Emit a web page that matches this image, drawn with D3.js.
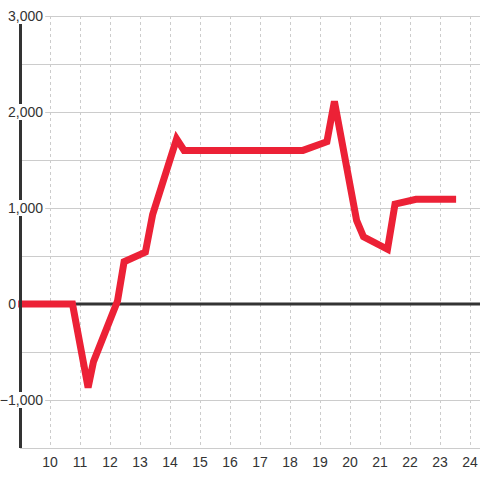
<!DOCTYPE html>
<html>
<head>
<meta charset="utf-8">
<script src="https://cdn.jsdelivr.net/npm/d3@7"></script>
<style>
  html, body { margin: 0; padding: 0; background: #fff; }
  #chart { width: 480px; height: 480px; }
  text { font-family: "Liberation Sans", Arial, sans-serif; font-size: 14px; fill: #333; }
</style>
</head>
<body>
<div id="chart"></div>
<script>
// data
const xValues = [9, 10.75, 11.27, 11.45, 12.25, 12.47, 13.18, 13.42, 14.22, 14.47, 18.43, 19.23, 19.48, 20.22, 20.45, 21.25, 21.5, 22.2, 23.42];
const yValues = [0, 0, -870, -600, 30, 440, 540, 930, 1720, 1600, 1600, 1690, 2110, 870, 700, 570, 1040, 1090, 1090];
const xTicks = [10, 11, 12, 13, 14, 15, 16, 17, 18, 19, 20, 21, 22, 23, 24];
const yGrid = [-1500, -1000, -500, 0, 500, 1000, 1500, 2000, 2500, 3000];
const yLabels = [-1000, 0, 1000, 2000, 3000];

const points = xValues.map((x, i) => ({ x: x, y: yValues[i] }));

const width = 480, height = 480;
const plotLeft = 20, plotTop = 16, plotBottom = 448;

const svg = d3.select('#chart').append('svg')
    .attr('width', width)
    .attr('height', height);

const x = d3.scaleLinear().domain([9, 24.333]).range([plotLeft, width]);
const y = d3.scaleLinear().domain([-1500, 3000]).range([plotBottom, plotTop]);

// vertical dashed grid
svg.append('g').selectAll('line')
    .data(xTicks)
    .enter().append('line')
    .attr('x1', d => Math.round(x(d)) + 0.5)
    .attr('x2', d => Math.round(x(d)) + 0.5)
    .attr('y1', plotTop)
    .attr('y2', plotBottom)
    .attr('stroke', '#ccc')
    .attr('stroke-dasharray', '3,3');

// horizontal grid
svg.append('g').selectAll('line')
    .data(yGrid)
    .enter().append('line')
    .attr('x1', plotLeft)
    .attr('x2', width)
    .attr('y1', d => Math.round(y(d)) + 0.5)
    .attr('y2', d => Math.round(y(d)) + 0.5)
    .attr('stroke', '#ccc');

// zero line (under the series)
svg.append('line')
    .attr('x1', plotLeft).attr('x2', width)
    .attr('y1', y(0)).attr('y2', y(0))
    .attr('stroke', '#333').attr('stroke-width', 3);

// data line
const line = d3.line()
    .x(d => x(d.x))
    .y(d => y(d.y));

svg.append('path')
    .datum(points)
    .attr('d', line)
    .attr('fill', 'none')
    .attr('stroke', '#ec2136')
    .attr('stroke-width', 7)
    .attr('stroke-linecap', 'square');

// y axis line (over the series)
svg.append('line')
    .attr('x1', plotLeft + 0.5).attr('x2', plotLeft + 0.5)
    .attr('y1', plotTop).attr('y2', plotBottom)
    .attr('stroke', '#333').attr('stroke-width', 3);

// y labels with white box behind
const fmt = d3.format(',');
const yl = svg.append('g').selectAll('g')
    .data(yLabels)
    .enter().append('g')
    .attr('transform', d => `translate(${d === 0 ? 16 : 43}, ${y(d)})`);

yl.append('text')
    .attr('text-anchor', 'end')
    .attr('dy', '0.35em')
    .text(d => fmt(d));

yl.each(function() {
    const g = d3.select(this);
    const bb = g.select('text').node().getBBox();
    g.insert('rect', 'text')
        .attr('x', bb.x - 2)
        .attr('y', -8)
        .attr('width', bb.width + 4)
        .attr('height', 16)
        .attr('fill', '#fff');
});

// x labels
svg.append('g').selectAll('text')
    .data(xTicks)
    .enter().append('text')
    .attr('x', d => x(d))
    .attr('y', 462)
    .attr('dy', '0.35em')
    .attr('text-anchor', 'middle')
    .text(d => d);
</script>
</body>
</html>
